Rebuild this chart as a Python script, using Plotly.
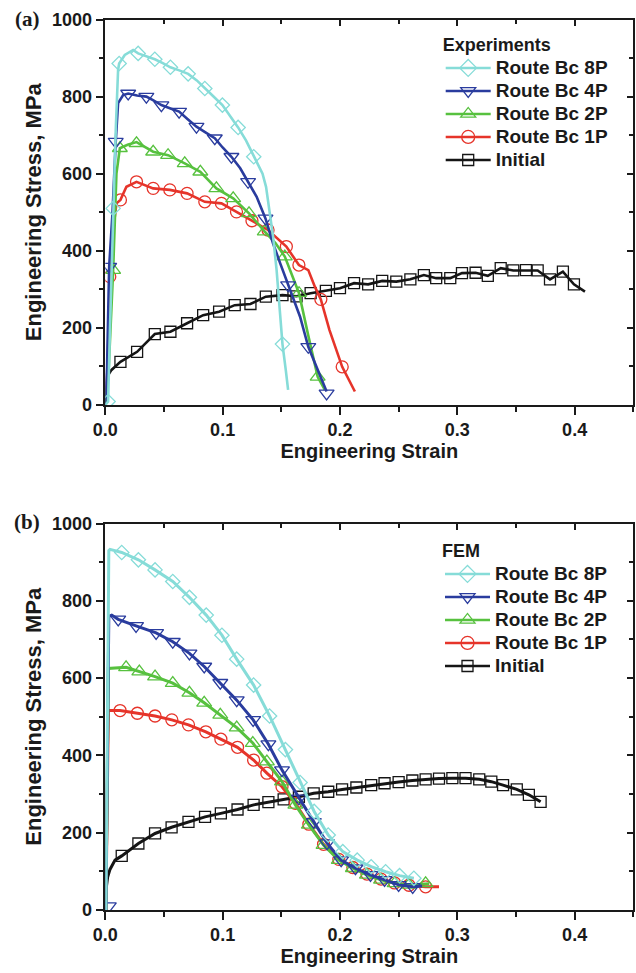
import plotly.graph_objects as go

# ---------------- DATA: (a) Experiments ----------------
exp_8p_x = [0, 0.0024, 0.004, 0.0067, 0.0089, 0.0109, 0.0118, 0.0166, 0.0237, 0.028, 0.035, 0.0422, 0.049,
            0.0555, 0.063, 0.0706, 0.078, 0.0848, 0.092, 0.0998, 0.106, 0.1132, 0.12, 0.1265, 0.130, 0.134,
            0.137, 0.140, 0.143, 0.146, 0.149, 0.151, 0.1538, 0.1558]
exp_8p_y = [0, 9, 200, 510, 713, 869, 886, 908, 921, 912, 905, 897, 887,
            876, 868, 859, 842, 821, 801, 778, 752, 720, 686, 644, 625, 600,
            566, 506, 437, 350, 229, 158, 91, 39]
exp_8p_mx = [0.0024, 0.0067, 0.0118, 0.028, 0.0422, 0.0555, 0.0706, 0.0848, 0.0998, 0.1132, 0.1265, 0.151]
exp_8p_my = [9, 510, 886, 912, 897, 876, 859, 821, 778, 720, 644, 158]

exp_4p_x = [0, 0.0015, 0.0033, 0.0061, 0.0089, 0.0109, 0.0152, 0.0195, 0.027, 0.035, 0.041, 0.0478, 0.055,
            0.0629, 0.070, 0.0777, 0.085, 0.0933, 0.100, 0.1075, 0.115, 0.1217, 0.129, 0.1365, 0.143, 0.149,
            0.1558, 0.166, 0.173, 0.181, 0.1886]
exp_4p_y = [0, 100, 359, 497, 683, 783, 804, 808, 803, 800, 790, 778, 770,
            761, 742, 722, 708, 692, 668, 644, 614, 579, 540, 484, 419, 368,
            311, 229, 151, 90, 35]
exp_4p_mx = [0.0033, 0.0089, 0.0195, 0.035, 0.0478, 0.0629, 0.0777, 0.0933, 0.1075, 0.1217, 0.1365, 0.1558,
             0.173, 0.1886]
exp_4p_my = [359, 683, 808, 800, 778, 761, 722, 692, 644, 579, 484, 311, 151, 30]

exp_2p_x = [0, 0.003, 0.0067, 0.0095, 0.0124, 0.019, 0.0266, 0.034, 0.0408, 0.0535, 0.0677, 0.081, 0.0947,
            0.109, 0.1225, 0.1359, 0.145, 0.153, 0.1651, 0.173, 0.181, 0.187]
exp_2p_y = [0, 100, 350, 600, 666, 675, 682, 670, 657, 648, 627, 605, 562,
            536, 497, 450, 420, 385, 290, 180, 73, 40]
exp_2p_mx = [0.0067, 0.0124, 0.0266, 0.0408, 0.0535, 0.0677, 0.081, 0.0947, 0.109, 0.1225, 0.1359, 0.153,
             0.1651, 0.181]
exp_2p_my = [350, 666, 679, 657, 648, 627, 605, 562, 536, 497, 450, 385, 290, 73]

exp_1p_x = [0, 0.002, 0.0038, 0.0067, 0.0095, 0.0129, 0.018, 0.0266, 0.0408, 0.055, 0.0697, 0.0848, 0.099,
            0.1118, 0.125, 0.1387, 0.1543, 0.165, 0.173, 0.1786, 0.1837, 0.191, 0.2019, 0.2127]
exp_1p_y = [0, 100, 333, 454, 523, 532, 566, 579, 562, 558, 549, 527, 523,
            501, 478, 454, 411, 363, 350, 307, 274, 195, 99, 35]
exp_1p_mx = [0.0038, 0.0129, 0.0266, 0.0408, 0.055, 0.0697, 0.0848, 0.099, 0.1118, 0.125, 0.1387, 0.1543,
             0.165, 0.1837, 0.2019]
exp_1p_my = [333, 532, 579, 562, 558, 549, 527, 523, 501, 478, 454, 411, 363, 274, 99]

exp_in_x = [0, 0.001, 0.003, 0.0053, 0.0129, 0.0271, 0.0422, 0.0555, 0.0697, 0.0834, 0.097, 0.1103, 0.1237,
            0.1368, 0.151, 0.163, 0.175, 0.188, 0.200, 0.212, 0.224, 0.236, 0.248, 0.260, 0.2715, 0.282,
            0.294, 0.304, 0.3156, 0.326, 0.337, 0.3477, 0.3585, 0.3685, 0.379, 0.390, 0.3994, 0.4088]
exp_in_y = [0, 40, 80, 91, 112, 138, 184, 190, 212, 233, 242, 259, 262,
            281, 285, 282, 290, 296, 303, 316, 313, 322, 320, 326, 337, 329,
            329, 342, 343, 335, 355, 349, 350, 349, 326, 346, 313, 294]
exp_in_mx = exp_in_x[4:-1]
exp_in_my = exp_in_y[4:-1]

# ---------------- DATA: (b) FEM ----------------
fem_8p_x = [0.0005, 0.003, 0.004, 0.014, 0.0282, 0.0424, 0.0575, 0.0717, 0.086, 0.0994, 0.112, 0.1264, 0.140,
            0.1535, 0.166, 0.178, 0.190, 0.2024, 0.2147, 0.2266, 0.2389, 0.2508, 0.263]
fem_8p_y = [0, 930, 933, 925, 906, 880, 850, 809, 763, 711, 649, 582, 502,
            415, 330, 255, 194, 151, 129, 112, 99, 89, 82]
fem_8p_mx = fem_8p_x[3:]
fem_8p_my = fem_8p_y[3:]

fem_4p_x = [0.0005, 0.003, 0.0055, 0.011, 0.0262, 0.0433, 0.0575, 0.0717, 0.0843, 0.098, 0.112, 0.126, 0.139,
            0.1506, 0.165, 0.1777, 0.189, 0.201, 0.2132, 0.226, 0.238, 0.250, 0.262, 0.27]
fem_4p_y = [0, 760, 763, 752, 735, 717, 694, 664, 630, 588, 543, 492, 429,
            362, 289, 228, 173, 129, 108, 91, 78, 65, 60, 62]
fem_4p_mx = [0.003] + fem_4p_x[3:-1]
fem_4p_my = [10] + fem_4p_y[3:-1]

fem_2p_x = [0.0005, 0.0026, 0.0177, 0.029, 0.0424, 0.0575, 0.0717, 0.0843, 0.098, 0.112, 0.1257, 0.1377,
            0.1506, 0.162, 0.1735, 0.186, 0.199, 0.211, 0.223, 0.235, 0.2466, 0.2588, 0.273, 0.276]
fem_2p_y = [0, 625, 628, 617, 604, 587, 562, 536, 505, 472, 432, 384,
            332, 272, 220, 168, 129, 108, 91, 78, 69, 65, 69, 68]
fem_2p_mx = fem_2p_x[2:-1]
fem_2p_my = fem_2p_y[2:-1]

fem_1p_x = [0.0005, 0.0026, 0.0126, 0.0273, 0.0424, 0.0567, 0.0709, 0.0857, 0.0985, 0.1127, 0.1264, 0.1377,
            0.1506, 0.162, 0.1735, 0.186, 0.199, 0.211, 0.223, 0.235, 0.2466, 0.2588, 0.273, 0.2844]
fem_1p_y = [0, 516, 516, 509, 502, 492, 479, 461, 442, 421, 388, 354,
            319, 276, 222, 170, 131, 110, 93, 80, 70, 64, 60, 60]
fem_1p_mx = fem_1p_x[2:-1]
fem_1p_my = fem_1p_y[2:-1]

fem_in_x = [0.0003, 0.0006, 0.002, 0.004, 0.0083, 0.014, 0.0282, 0.0424, 0.0565, 0.0709, 0.085, 0.0985, 0.1127,
            0.1264, 0.139, 0.152, 0.165, 0.1776, 0.190, 0.2018, 0.214, 0.2266, 0.238, 0.250, 0.2617, 0.273,
            0.2844, 0.2958, 0.307, 0.3187, 0.329, 0.339, 0.3507, 0.361, 0.371]
fem_in_y = [0, 52, 85, 105, 129, 140, 172, 198, 214, 228, 241, 250, 260,
            272, 279, 286, 293, 302, 306, 312, 317, 323, 328, 331, 335, 338,
            340, 341, 341, 338, 332, 323, 312, 298, 280]
fem_in_mx = fem_in_x[5:]
fem_in_my = fem_in_y[5:]

names = ["Route Bc 8P", "Route Bc 4P", "Route Bc 2P", "Route Bc 1P", "Initial"]
colors = ["#86dcd8", "#2a3c9e", "#57c13f", "#e6342a", "#151515"]
symbols = ["diamond-open", "triangle-down-open", "triangle-up-open", "circle-open", "square-open"]
msize_plot = [11, 13, 13, 12, 11]
msize_leg = [13, 13, 13, 13, 11]

W, H = 636, 973
FONT = "Liberation Sans, Arial, sans-serif"


def py(p):
    return 1 - p / H


fig = go.Figure()

panels = [
    ("x", "y", "legend",
     [(exp_8p_x, exp_8p_y, exp_8p_mx, exp_8p_my), (exp_4p_x, exp_4p_y, exp_4p_mx, exp_4p_my),
      (exp_2p_x, exp_2p_y, exp_2p_mx, exp_2p_my), (exp_1p_x, exp_1p_y, exp_1p_mx, exp_1p_my),
      (exp_in_x, exp_in_y, exp_in_mx, exp_in_my)], 2.6),
    ("x2", "y2", "legend2",
     [(fem_8p_x, fem_8p_y, fem_8p_mx, fem_8p_my), (fem_4p_x, fem_4p_y, fem_4p_mx, fem_4p_my),
      (fem_2p_x, fem_2p_y, fem_2p_mx, fem_2p_my), (fem_1p_x, fem_1p_y, fem_1p_mx, fem_1p_my),
      (fem_in_x, fem_in_y, fem_in_mx, fem_in_my)], 3),
]

for xa, ya, lg, series, lw in panels:
    # draw Initial first, 8P last (on top)
    for i in reversed(range(5)):
        lx, ly, mx, my = series[i]
        fig.add_trace(go.Scatter(x=lx, y=ly, mode="lines", xaxis=xa, yaxis=ya,
                                 line=dict(color=colors[i], width=lw), showlegend=False, hoverinfo="skip"))
        fig.add_trace(go.Scatter(x=mx, y=my, mode="markers", xaxis=xa, yaxis=ya,
                                 marker=dict(symbol=symbols[i], size=msize_plot[i], color=colors[i],
                                             line=dict(width=1.3, color=colors[i])),
                                 showlegend=False, hoverinfo="skip"))
    for i in range(5):
        fig.add_trace(go.Scatter(x=[None], y=[None], mode="lines+markers", xaxis=xa, yaxis=ya,
                                 name='<span style="font-size:19px">' + names[i] + '</span>', legend=lg,
                                 line=dict(color=colors[i], width=2.5),
                                 marker=dict(symbol=symbols[i], size=msize_leg[i], color=colors[i],
                                             line=dict(width=1.3, color=colors[i]))))

xdom = [105.3 / W, 633.3 / W]
ydom_a = [py(405), py(19.5)]
ydom_b = [py(910), py(523.5)]

tickfont = dict(family=FONT, size=18, color="#1a1a1a", weight="bold")
xtitlefont = dict(family=FONT, size=20, color="#1a1a1a", weight="bold")
ytitlefont = dict(family=FONT, size=22, color="#1a1a1a", weight="bold")


def xaxis(anchor):
    return dict(domain=xdom, anchor=anchor, range=[0, 0.45], dtick=0.1, tick0=0, tickformat=".1f",
                ticks="outside", ticklen=8, tickwidth=1.5, tickcolor="#1a1a1a", automargin=False,
                minor=dict(dtick=0.05, ticks="outside", ticklen=5, tickwidth=1.5, tickcolor="#1a1a1a"),
                showline=True, linewidth=1.5, linecolor="#1a1a1a", mirror=True,
                showgrid=False, zeroline=False, tickfont=tickfont,
                title=dict(text="Engineering Strain", font=xtitlefont, standoff=3))


def yaxis(anchor, dom):
    return dict(domain=dom, anchor=anchor, range=[0, 1000], dtick=200, tick0=0, automargin=False,
                ticks="outside", ticklen=8, tickwidth=1.5, tickcolor="#1a1a1a",
                minor=dict(dtick=100, ticks="outside", ticklen=5, tickwidth=1.5, tickcolor="#1a1a1a"),
                showline=True, linewidth=1.5, linecolor="#1a1a1a", mirror=True,
                showgrid=False, zeroline=False, tickfont=tickfont,
                title=dict(text="Engineering Stress, MPa", font=ytitlefont, standoff=4))


def xmirror(over, anchor):
    return dict(overlaying=over, anchor=anchor, side="top", range=[0, 0.45], dtick=0.1, tick0=0,
                ticks="inside", ticklen=6, tickwidth=1.5, tickcolor="#1a1a1a", automargin=False,
                minor=dict(dtick=0.05, ticks="inside", ticklen=4, tickwidth=1.5, tickcolor="#1a1a1a"),
                showticklabels=False, showline=False, showgrid=False, zeroline=False)


def ymirror(over, anchor):
    return dict(overlaying=over, anchor=anchor, side="right", range=[0, 1000], dtick=200, tick0=0,
                ticks="inside", ticklen=6, tickwidth=1.5, tickcolor="#1a1a1a", automargin=False,
                minor=dict(dtick=100, ticks="inside", ticklen=4, tickwidth=1.5, tickcolor="#1a1a1a"),
                showticklabels=False, showline=False, showgrid=False, zeroline=False)


# invisible traces so the mirror-tick axes exist
fig.add_trace(go.Scatter(x=[None], y=[None], xaxis="x3", yaxis="y3", showlegend=False, hoverinfo="skip"))
fig.add_trace(go.Scatter(x=[None], y=[None], xaxis="x4", yaxis="y4", showlegend=False, hoverinfo="skip"))

legfont = dict(family=FONT, size=15.4, color="#1a1a1a", weight="bold")
legtitlefont = dict(family=FONT, size=18, color="#1a1a1a", weight="bold")
panelfont = dict(family="Liberation Serif, Times New Roman, serif", size=21, color="#1a1a1a", weight="bold")

fig.update_layout(
    width=W, height=H,
    margin=dict(l=0, r=0, t=0, b=0, autoexpand=False),
    paper_bgcolor="white", plot_bgcolor="white",
    xaxis=xaxis("y"), yaxis=yaxis("x", ydom_a),
    xaxis2=xaxis("y2"), yaxis2=yaxis("x2", ydom_b),
    xaxis3=xmirror("x", "y"), yaxis3=ymirror("y", "x"),
    xaxis4=xmirror("x2", "y2"), yaxis4=ymirror("y2", "x2"),
    legend=dict(x=440.7 / W, y=py(28), xanchor="left", yanchor="top", font=legfont,
                title=dict(text="Experiments", font=legtitlefont), itemwidth=45,
                bgcolor="rgba(0,0,0,0)", borderwidth=0, tracegroupgap=0),
    legend2=dict(x=440 / W, y=py(534), xanchor="left", yanchor="top", font=legfont,
                 title=dict(text="FEM", font=legtitlefont), itemwidth=45,
                 bgcolor="rgba(0,0,0,0)", borderwidth=0, tracegroupgap=0),
    showlegend=True,
    annotations=[
        dict(text="(a)", x=27 / W, y=py(19), xref="paper", yref="paper", showarrow=False,
             xanchor="center", yanchor="middle", font=panelfont),
        dict(text="(b)", x=27 / W, y=py(522), xref="paper", yref="paper", showarrow=False,
             xanchor="center", yanchor="middle", font=panelfont),
    ],
)

fig.write_html("out.html", config={"displayModeBar": False},
               post_script="document.body.style.margin='0';")
